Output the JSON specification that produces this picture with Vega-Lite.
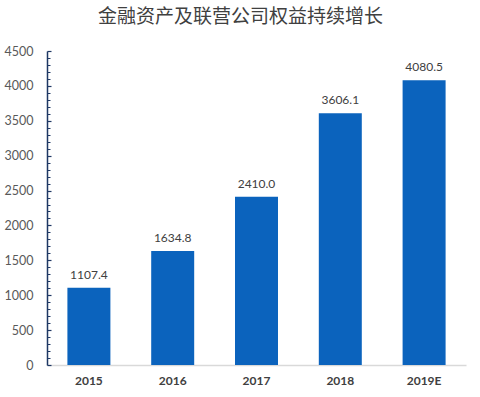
{
  "$schema": "https://vega.github.io/schema/vega-lite/v6.json",
  "width": 419,
  "height": 314,
  "autosize": "none",
  "padding": {"left": 47, "top": 51, "right": 14, "bottom": 32},
  "background": "#ffffff",
  "config": {"view": {"stroke": null}},
  "title": {
    "text": "金融资产及联营公司权益持续增长",
    "font": "Noto Sans CJK SC",
    "fontSize": 19,
    "fontWeight": "normal",
    "color": "#404040",
    "offset": 18,
    "dx": -16
  },
  "data": {
    "values": [
      {"year": "2015", "value": 1107.4},
      {"year": "2016", "value": 1634.8},
      {"year": "2017", "value": 2410.0},
      {"year": "2018", "value": 3606.1},
      {"year": "2019E", "value": 4080.5}
    ]
  },
  "encoding": {
    "x": {
      "field": "year",
      "type": "ordinal",
      "sort": null,
      "title": null,
      "scale": {"paddingInner": 0.487, "paddingOuter": 0.2435},
      "axis": {
        "labelAngle": 0,
        "labelFont": "Lato",
        "labelFontSize": 12,
        "labelFontWeight": "bold",
        "labelColor": "#404040",
        "labelPadding": 10,
        "ticks": false,
        "domainColor": "#D9D9D9",
        "domainWidth": 1.5
      }
    }
  },
  "resolve": {"scale": {"y": "independent"}, "axis": {"y": "independent"}},
  "layer": [
    {
      "mark": {"type": "bar", "color": "#0B63BD"},
      "encoding": {
        "y": {
          "field": "value",
          "type": "quantitative",
          "title": null,
          "scale": {"domain": [0, 4500], "nice": false},
          "axis": {
            "orient": "left",
            "values": [0, 500, 1000, 1500, 2000, 2500, 3000, 3500, 4000, 4500],
            "format": "d",
            "grid": false,
            "labelFont": "Lato",
            "labelFontSize": 12.5,
            "labelColor": "#595959",
            "labelPadding": 18,
            "tickSize": -4,
            "tickColor": "#1F3864",
            "tickWidth": 1.2,
            "domainColor": "#1F3864",
            "domainWidth": 1.5
          }
        }
      }
    },
    {
      "mark": {"type": "text", "baseline": "bottom", "dy": -6, "font": "Lato", "fontSize": 12, "color": "#404040"},
      "encoding": {
        "y": {
          "field": "value",
          "type": "quantitative",
          "title": null,
          "scale": {"domain": [0, 4500], "nice": false},
          "axis": {
            "orient": "left",
            "values": [100, 200, 300, 400, 600, 700, 800, 900, 1100, 1200, 1300, 1400, 1600, 1700, 1800, 1900, 2100, 2200, 2300, 2400, 2600, 2700, 2800, 2900, 3100, 3200, 3300, 3400, 3600, 3700, 3800, 3900, 4100, 4200, 4300, 4400],
            "grid": false,
            "labels": false,
            "domain": false,
            "tickSize": -3,
            "tickColor": "#1F3864",
            "tickWidth": 1
          }
        },
        "text": {"field": "value", "type": "quantitative", "format": ".1f"}
      }
    }
  ]
}
